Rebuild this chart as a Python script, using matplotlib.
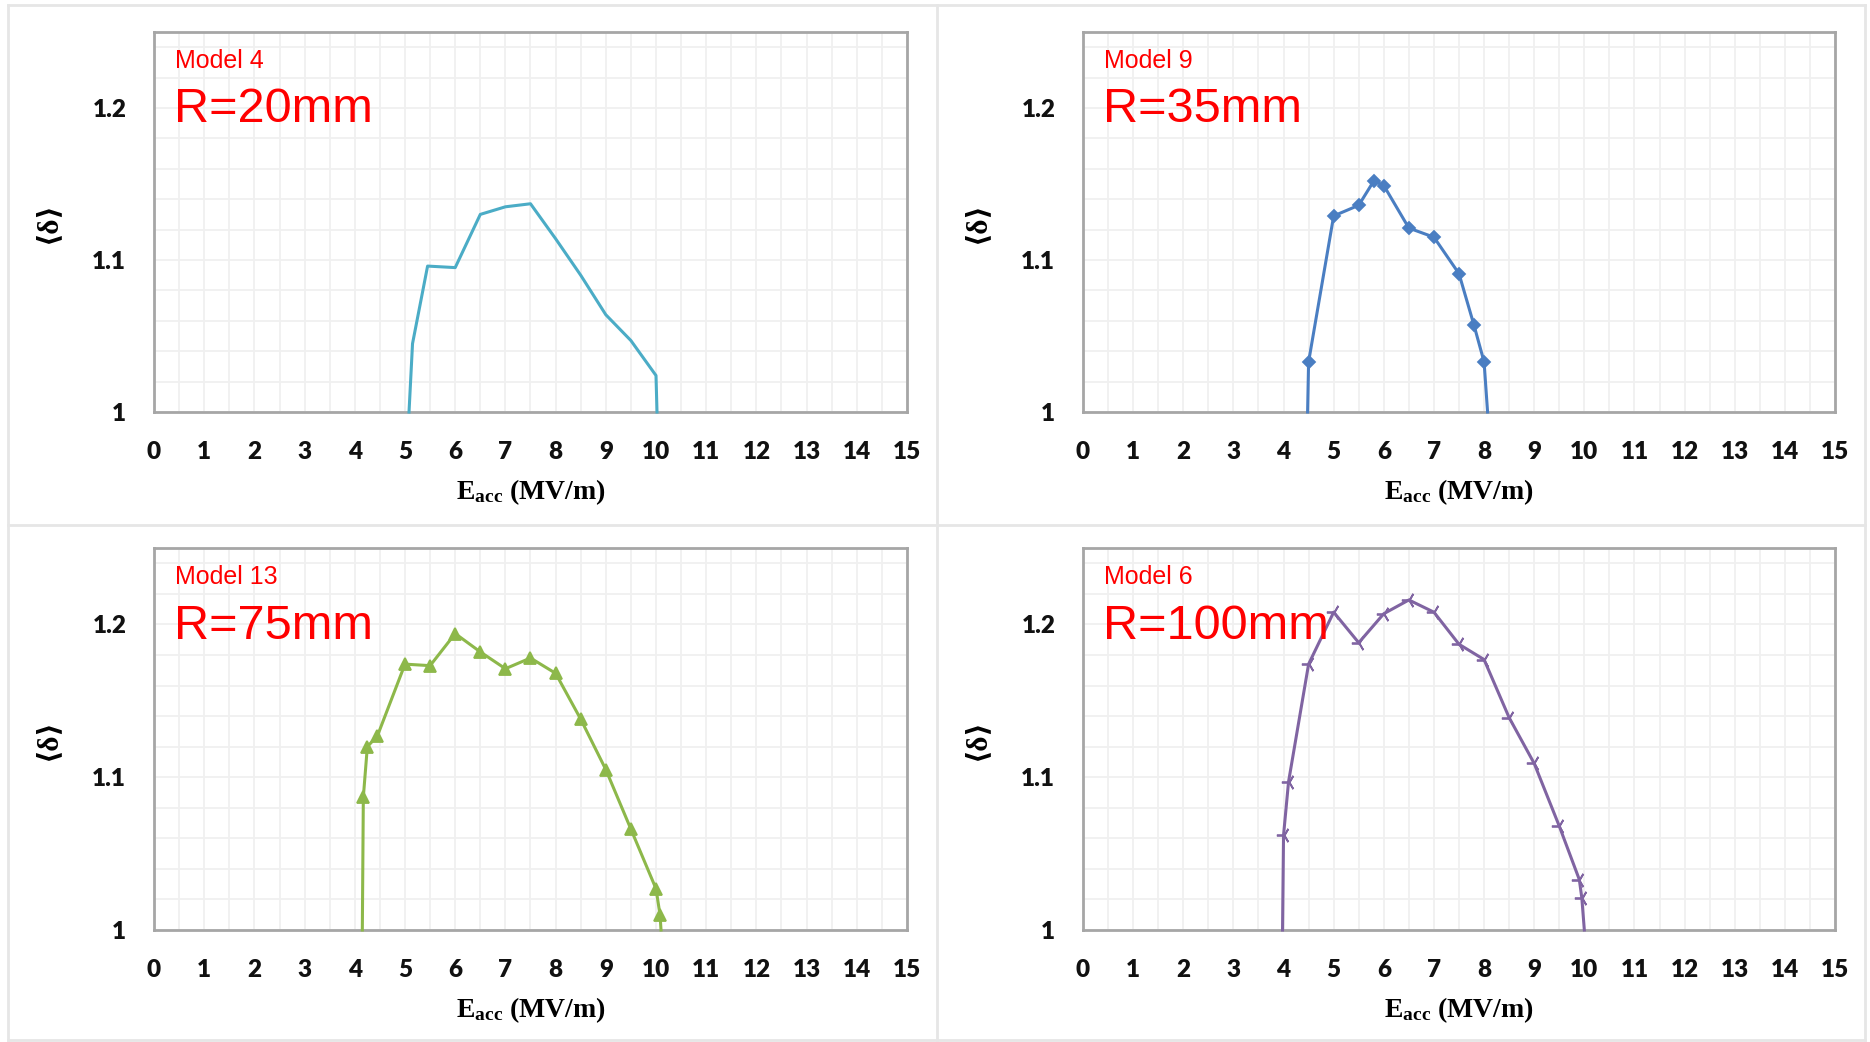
import numpy as np
import matplotlib
matplotlib.use("Agg")
import matplotlib.pyplot as plt
from matplotlib.lines import Line2D

plt.rcParams['mathtext.fontset'] = 'custom'
plt.rcParams['mathtext.rm'] = 'Liberation Serif:bold'
plt.rcParams['mathtext.it'] = 'Liberation Serif:italic:bold'

# data
e_m4 = [5.08, 5.15, 5.45, 6.0, 6.5, 7.0, 7.5, 8.0, 8.5, 9.0, 9.5, 10.0, 10.02]
d_m4 = [1.0, 1.045, 1.096, 1.095, 1.130, 1.135, 1.137, 1.114, 1.090, 1.064, 1.047, 1.024, 1.0]

e_m9 = [4.48, 4.5, 5.0, 5.5, 5.8, 6.0, 6.5, 7.0, 7.5, 7.8, 8.0, 8.07]
d_m9 = [1.0, 1.033, 1.129, 1.136, 1.152, 1.149, 1.121, 1.115, 1.091, 1.057, 1.033, 1.0]

e_m13 = [4.15, 4.17, 4.25, 4.45, 5.0, 5.5, 6.0, 6.5, 7.0, 7.5, 8.0, 8.5, 9.0, 9.5, 10.0, 10.08, 10.1]
d_m13 = [1.0, 1.087, 1.120, 1.127, 1.174, 1.173, 1.194, 1.182, 1.171, 1.178, 1.168, 1.138, 1.105, 1.066, 1.027, 1.010, 1.0]

e_m6 = [3.98, 4.0, 4.1, 4.5, 5.0, 5.5, 6.0, 6.5, 7.0, 7.5, 8.0, 8.5, 9.0, 9.5, 9.9, 9.95, 10.0]
d_m6 = [1.0, 1.062, 1.097, 1.174, 1.208, 1.188, 1.207, 1.216, 1.208, 1.187, 1.177, 1.139, 1.109, 1.068, 1.033, 1.021, 1.0]

models = ["Model 4", "Model 9", "Model 13", "Model 6"]
radii = ["R=20mm", "R=35mm", "R=75mm", "R=100mm"]
xs = [e_m4, e_m9, e_m13, e_m6]
ys = [d_m4, d_m9, d_m13, d_m6]
colors = ["#4BACC6", "#4A7EC2", "#8DB84A", "#8064A2"]
markers = [None, "D", "^", (3, 2, 90)]
msizes = [0, 6, 8, 11]

W, H = 1870, 1042
fig = plt.figure(figsize=(W / 100, H / 100), dpi=100)

# light panel separators
for x in [8, 937, 1865]:
    fig.add_artist(Line2D([x / W, x / W], [1 - 5 / H, 1 - 1040 / H], color="#E6E6E6", lw=2))
for y in [5, 525, 1040]:
    fig.add_artist(Line2D([8 / W, 1865 / W], [1 - y / H, 1 - y / H], color="#E6E6E6", lw=2))

boxes = [(154, 907, 32, 412), (1083, 1835, 32, 412),
         (154, 907, 548, 930), (1083, 1835, 548, 930)]

for i in range(4):
    l, r, t, b = boxes[i]
    ax = fig.add_axes([l / W, 1 - b / H, (r - l) / W, (b - t) / H])
    ax.set_xlim(0, 15)
    ax.set_ylim(1, 1.25)
    ax.set_xticks(np.arange(0, 16, 1))
    ax.set_xticks(np.arange(0, 15.01, 0.5), minor=True)
    ax.set_yticks([1, 1.1, 1.2])
    ax.set_yticklabels(["1", "1.1", "1.2"])
    ax.set_yticks(np.arange(1, 1.2501, 0.02), minor=True)
    ax.grid(which="both", color="#F0F0F0", lw=1.3)
    ax.set_axisbelow(True)
    ax.tick_params(which="both", length=0)
    ax.tick_params(axis="x", pad=21)
    ax.tick_params(axis="y", pad=20)
    for lab in ax.get_xticklabels() + ax.get_yticklabels():
        lab.set_fontfamily("Lato")
        lab.set_fontweight("heavy")
        lab.set_fontsize(17.5)
        lab.set_color("#111111")
    for s in ax.spines.values():
        s.set_color("#A6A6A6")
        s.set_linewidth(2)

    n = len(xs[i])
    ax.plot(xs[i], ys[i], color=colors[i], lw=2.2, marker=markers[i],
            markersize=msizes[i], markeredgewidth=1.3,
            markevery=list(range(1, n - 1)), clip_on=False, zorder=3)

    ax.text(0.028, 0.905, models[i], transform=ax.transAxes, color="#FF0000",
            fontsize=18, family="Liberation Sans", zorder=5)
    ax.text(0.026, 0.763, radii[i], transform=ax.transAxes, color="#FF0000",
            fontsize=35, family="Liberation Sans", zorder=5)

    ax.set_xlabel(r"E$_{\mathrm{acc}}$ (MV/m)", family="Liberation Serif",
                  fontweight="bold", fontsize=20, va="center")
    ax.xaxis.set_label_coords(0.5, -80 / (b - t))
    ax.set_ylabel("⟨δ⟩", family=["Liberation Serif", "DejaVu Sans"],
                  fontweight="bold", fontsize=21, va="center")
    ax.yaxis.set_label_coords(-106 / (r - l), 0.5)

fig.savefig("out.png", dpi=100)
